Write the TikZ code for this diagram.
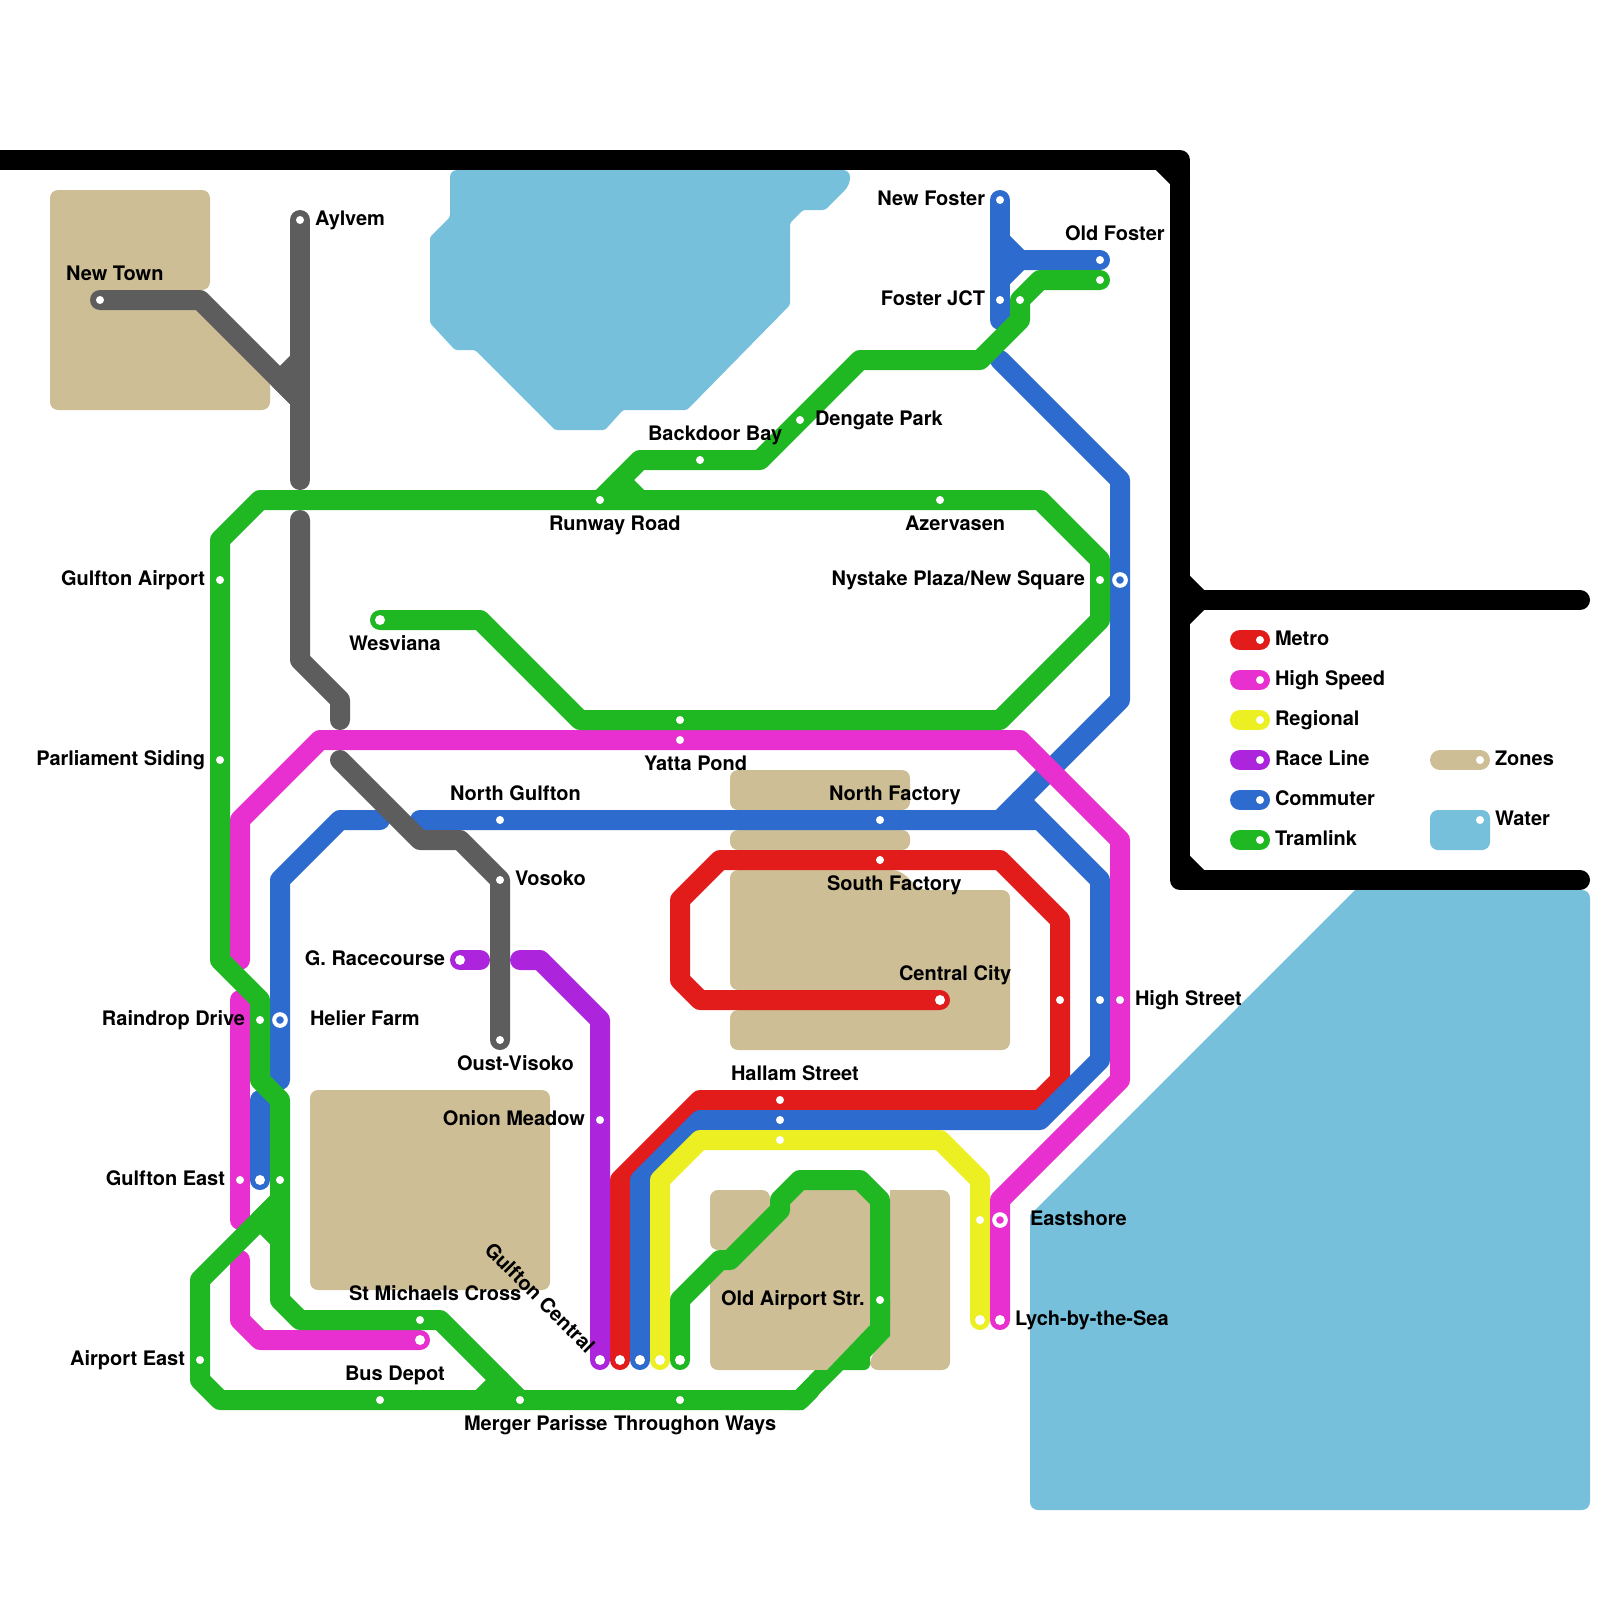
\documentclass[tikz,border=0pt]{standalone}
\usepackage{fontspec}
\setmainfont{TeX Gyre Heros}
\usetikzlibrary{backgrounds}
\definecolor{cRed}{HTML}{E21B1B}
\definecolor{cMag}{HTML}{E82FCF}
\definecolor{cYel}{HTML}{ECEF21}
\definecolor{cPur}{HTML}{AC25DC}
\definecolor{cBlu}{HTML}{2E6BCE}
\definecolor{cGrn}{HTML}{1FB823}
\definecolor{cGry}{HTML}{5D5D5D}
\definecolor{cTan}{HTML}{CDBE96}
\definecolor{cWat}{HTML}{76C0DC}
\tikzset{
  x=0.5pt,y=-0.5pt,
  route/.style={line width=10pt,line cap=round,line join=round,draw=#1},
  zone/.style={fill=cTan,rounded corners=4pt},
  water/.style={fill=cWat,rounded corners=4pt},
  sm/.style={circle,fill=white,inner sep=0pt,outer sep=0pt,minimum size=4pt},
  en/.style={circle,fill=white,inner sep=0pt,outer sep=0pt,minimum size=5pt},
  ring/.style={circle,fill=#1,draw=white,line width=2pt,inner sep=0pt,outer sep=0pt,minimum size=5.8pt},
  lab/.style={inner sep=0pt,outer sep=0pt,font=\fontsize{10}{12}\selectfont\bfseries,text=black,yshift=-0.7pt},
  labL/.style={lab,anchor=base west},
  labR/.style={lab,anchor=base east},
}
\begin{document}
\begin{tikzpicture}
\useasboundingbox (0,0) rectangle (1600,1600);

% stations
\node[sm] (NewTown) at (100,300) {};
\node[sm] (Aylvem) at (300,220) {};
\node[sm] (Vosoko) at (500,880) {};
\node[sm] (OustVisoko) at (500,1040) {};
\node[sm] (NewFoster) at (1000,200) {};
\node[sm] (FosterJCTb) at (1000,300) {};
\node[sm] (OldFosterb) at (1100,260) {};
\node[sm] (OldFosterg) at (1100,280) {};
\node[sm] (FosterJCTg) at (1020,300) {};
\node[sm] (Dengate) at (800,420) {};
\node[sm] (Backdoor) at (700,460) {};
\node[sm] (Runway) at (600,500) {};
\node[sm] (Azervasen) at (940,500) {};
\node[sm] (NystakeG) at (1100,580) {};
\node[ring=cBlu] (NystakeB) at (1120,580) {};
\node[en] (Wesviana) at (380,620) {};
\node[sm] (YattaG) at (680,720) {};
\node[sm] (YattaM) at (680,740) {};
\node[sm] (GulftonAirport) at (220,580) {};
\node[sm] (Parliament) at (220,760) {};
\node[sm] (NorthGulfton) at (500,820) {};
\node[sm] (NorthFactory) at (880,820) {};
\node[sm] (SouthFactory) at (880,860) {};
\node[en] (CentralCity) at (940,1000) {};
\node[en] (GRacecourse) at (460,960) {};
\node[sm] (RaindropDrive) at (260,1020) {};
\node[ring=cBlu] (HelierFarm) at (280,1020) {};
\node[sm] (HighStR) at (1060,1000) {};
\node[sm] (HighStB) at (1100,1000) {};
\node[sm] (HighStM) at (1120,1000) {};
\node[sm] (HallamR) at (780,1100) {};
\node[sm] (HallamB) at (780,1120) {};
\node[sm] (HallamY) at (780,1140) {};
\node[sm] (OnionMeadow) at (600,1120) {};
\node[sm] (GulftonEastM) at (240,1180) {};
\node[en] (GulftonEastB) at (260,1180) {};
\node[sm] (GulftonEastG) at (280,1180) {};
\node[sm] (StMichaelsG) at (420,1320) {};
\node[en] (StMichaelsM) at (420,1340) {};
\node[sm] (AirportEast) at (200,1360) {};
\node[sm] (BusDepot) at (380,1400) {};
\node[sm] (Merger) at (520,1400) {};
\node[sm] (Throughon) at (680,1400) {};
\node[en] (CentralP) at (600,1360) {};
\node[en] (CentralR) at (620,1360) {};
\node[en] (CentralB) at (640,1360) {};
\node[en] (CentralY) at (660,1360) {};
\node[en] (CentralG) at (680,1360) {};
\node[sm] (OldAirport) at (880,1300) {};
\node[sm] (EastshoreY) at (980,1220) {};
\node[ring=cMag] (EastshoreM) at (1000,1220) {};
\node[en] (LychY) at (980,1320) {};
\node[en] (LychM) at (1000,1320) {};
% legend dots
\node[sm] (kMetro) at (1260,640) {};
\node[sm] (kHigh) at (1260,680) {};
\node[sm] (kReg) at (1260,720) {};
\node[sm] (kRace) at (1260,760) {};
\node[sm] (kComm) at (1260,800) {};
\node[sm] (kTram) at (1260,840) {};
\node[sm] (kZone) at (1480,760) {};
\node[sm] (kWater) at (1480,820) {};

% labels
\node[labL] (tNewTown) at (66,279) {New Town};
\node[labL] (tAylvem) at (315,224) {Aylvem};
\node[labR] (tGA) at (205,584) {Gulfton Airport};
\node[labL] (tWes) at (349,649) {Wesviana};
\node[labR] (tPar) at (205,764) {Parliament Siding};
\node[labL] (tRun) at (549,529) {Runway Road};
\node[labL] (tAze) at (905,529) {Azervasen};
\node[labL] (tBac) at (648,439) {Backdoor Bay};
\node[labL] (tDen) at (815,424) {Dengate Park};
\node[labR] (tNF) at (985,204) {New Foster};
\node[labL] (tOF) at (1065,239) {Old Foster};
\node[labR] (tFJ) at (985,304) {Foster JCT};
\node[labR] (tNys) at (1085,584) {Nystake Plaza/New Square};
\node[labL] (tYat) at (644,769) {Yatta Pond};
\node[labL] (tNoF) at (829,799) {North Factory};
\node[labL] (tSoF) at (827,889) {South Factory};
\node[labL] (tNoG) at (450,799) {North Gulfton};
\node[labL] (tVos) at (515,884) {Vosoko};
\node[labR] (tGRa) at (445,964) {G. Racecourse};
\node[labR] (tRai) at (245,1024) {Raindrop Drive};
\node[labL] (tHel) at (310,1024) {Helier Farm};
\node[labL] (tOus) at (457,1069) {Oust-Visoko};
\node[labR] (tOni) at (585,1124) {Onion Meadow};
\node[labR] (tGuE) at (225,1184) {Gulfton East};
\node[lab,rotate=-45] (tGuC) at (540,1296) {Gulfton Central};
\node[labL] (tStM) at (349,1299) {St Michaels Cross};
\node[labL] (tBus) at (345,1379) {Bus Depot};
\node[labR] (tAiE) at (185,1364) {Airport East};
\node[labL] (tMer) at (464,1429) {Merger Parisse};
\node[labL] (tThr) at (614,1429) {Throughon Ways};
\node[labL] (tOld) at (721,1304) {Old Airport Str.};
\node[labL] (tHal) at (731,1079) {Hallam Street};
\node[labL] (tCen) at (899,979) {Central City};
\node[labL] (tHig) at (1135,1004) {High Street};
\node[labL] (tEas) at (1030,1224) {Eastshore};
\node[labL] (tLyc) at (1015,1324) {Lych-by-the-Sea};
\node[labL] (kt1) at (1275,644) {Metro};
\node[labL] (kt2) at (1275,684) {High Speed};
\node[labL] (kt3) at (1275,724) {Regional};
\node[labL] (kt4) at (1275,764) {Race Line};
\node[labL] (kt5) at (1275,804) {Commuter};
\node[labL] (kt6) at (1275,844) {Tramlink};
\node[labL] (kt7) at (1495,764) {Zones};
\node[labL] (kt8) at (1495,824) {Water};

\begin{scope}[on background layer]
% water
\fill[water,rounded corners=1.2pt] (600,170) [rounded corners=3.5pt] -- (850,170) -- (850,185) [rounded corners=1.2pt] -- (825,210) -- (803,210) -- (790,223) -- (790,305) -- (687,410) -- (623,410) -- (605,430) -- (555,430) -- (475,350) -- (455,350) -- (430,323) -- (430,237) -- (450,217) [rounded corners=3.5pt] -- (450,170) -- cycle;
\fill[water] (1355,890) [rounded corners=4pt] -- (1590,890) -- (1590,1510) -- (1030,1510) [sharp corners] -- (1030,1215) -- cycle;
\fill[water] (1430,810) rectangle (1490,850);
% zones
\fill[zone] (50,190) rectangle (210,290);
\fill[cTan] (50,260) -- (200,260) -- (200,310) -- (210,310) -- (270,370) -- (270,400) -- (50,400) -- cycle;
\fill[zone] (50,380) rectangle (270,410);
\fill[zone] (730,770) rectangle (910,810);
\fill[zone] (730,830) rectangle (910,850);
\fill[zone] (730,1010) -- (800,1010) -- (800,990) -- (730,990) -- (730,870) -- (900,870) -- (920,890) -- (1010,890) -- (1010,1050) -- (730,1050) -- cycle;
\fill[zone] (310,1090) rectangle (550,1290);
\fill[zone] (710,1190) -- (770,1190) -- (770,1205) [sharp corners] -- (775,1205) -- (730,1250) [rounded corners=4pt] -- (710,1250) -- cycle;
\fill[zone] (800,1190) -- (790,1190) -- (790,1205) [sharp corners] -- (730,1265) -- (730,1270) [rounded corners=4pt] -- (710,1270) -- (710,1370) [sharp corners] -- (827,1370) -- (870,1325) [rounded corners=4pt] -- (870,1190) -- cycle;
\fill[zone] (890,1190) -- (950,1190) -- (950,1370) -- (870,1370) -- (870,1357) [sharp corners] -- (890,1336) -- cycle;
% black frame
\draw[route=black] (-20,160) -- (1180,160) -- (1180,880) -- (1580,880);
\draw[route=black] (1180,600) -- (1580,600);
\draw[route=black] (1160,160) -- (1180,180);
\draw[route=black] (1180,580) -- (1200,600) -- (1180,620);
\draw[route=black] (1180,860) -- (1200,880);
% metro
\draw[route=cRed] (CentralCity.center) -- (700,1000) -- (680,980) -- (680,900) -- (720,860) -- (SouthFactory.center) -- (1000,860) -- (1060,920) -- (HighStR.center) -- (1060,1080) -- (1040,1100) -- (HallamR.center) -- (700,1100) -- (620,1180) -- (CentralR.center);
% commuter
\draw[route=cBlu] (CentralB.center) -- (640,1180) -- (700,1120) -- (HallamB.center) -- (1040,1120) -- (1100,1060) -- (HighStB.center) -- (1100,880) -- (1020,800) -- (1040,820) -- (NorthFactory.center) -- (NorthGulfton.center) -- (420,820);
\draw[route=cBlu] (380,820) -- (340,820) -- (280,880) -- (HelierFarm.center) -- (280,1080);
\draw[route=cBlu] (260,1100) -- (GulftonEastB.center);
\draw[route=cBlu] (1000,820) -- (1120,700) -- (NystakeB.center) -- (1120,480) -- (1000,360);
\draw[route=cBlu] (NewFoster.center) -- (FosterJCTb.center) -- (1000,320);
\draw[route=cBlu] (OldFosterb.center) -- (1020,260) -- (1000,240);
\draw[route=cBlu] (1020,260) -- (1000,280);
% regional
\draw[route=cYel] (CentralY.center) -- (660,1180) -- (700,1140) -- (HallamY.center) -- (940,1140) -- (980,1180) -- (EastshoreY.center) -- (LychY.center);
% high speed
\draw[route=cMag] (240,960) -- (240,820) -- (320,740) -- (YattaM.center) -- (1020,740) -- (1120,840) -- (HighStM.center) -- (1120,1080) -- (1000,1200) -- (EastshoreM.center) -- (LychM.center);
\draw[route=cMag] (240,1000) -- (GulftonEastM.center) -- (240,1220);
\draw[route=cMag] (240,1260) -- (240,1320) -- (260,1340) -- (StMichaelsM.center);
% race line
\draw[route=cPur] (GRacecourse.center) -- (480,960);
\draw[route=cPur] (520,960) -- (540,960) -- (600,1020) -- (OnionMeadow.center) -- (CentralP.center);
% grey line
\draw[route=cGry] (NewTown.center) -- (200,300) -- (300,400);
\draw[route=cGry] (Aylvem.center) -- (300,480);
\draw[route=cGry] (300,360) -- (280,380) -- (300,400);
\draw[route=cGry] (300,520) -- (300,660) -- (340,700) -- (340,720);
\draw[route=cGry] (340,760) -- (420,840) -- (460,840) -- (Vosoko.center) -- (OustVisoko.center);
% tramlink
\draw[route=cGrn] (Wesviana.center) -- (480,620) -- (580,720) -- (YattaG.center) -- (1000,720) -- (1100,620) -- (NystakeG.center) -- (1100,560) -- (1040,500) -- (Azervasen.center) -- (Runway.center) -- (260,500) -- (220,540) -- (GulftonAirport.center) -- (Parliament.center) -- (220,960) -- (260,1000) -- (RaindropDrive.center) -- (260,1080) -- (280,1100) -- (GulftonEastG.center) -- (280,1300) -- (300,1320) -- (StMichaelsG.center) -- (440,1320) -- (Merger.center);
\draw[route=cGrn] (280,1200) -- (260,1220) -- (280,1240);
\draw[route=cGrn] (280,1200) -- (200,1280) -- (AirportEast.center) -- (200,1380) -- (220,1400) -- (BusDepot.center) -- (Merger.center) -- (Throughon.center) -- (800,1400) -- (810,1390);
\draw[route=cGrn] (480,1400) -- (500,1380);
\draw[route=cGrn] (OldFosterg.center) -- (1040,280) -- (FosterJCTg.center) -- (1020,320) -- (980,360) -- (860,360) -- (Dengate.center) -- (760,460) -- (Backdoor.center) -- (640,460) -- (Runway.center);
\draw[route=cGrn] (620,480) -- (640,500);
\draw[route=cGrn] (CentralG.center) -- (680,1300) -- (720,1260) -- (730,1260) -- (780,1210) -- (780,1200) -- (800,1180) -- (860,1180) -- (880,1200) -- (OldAirport.center) -- (880,1320);
\fill[cGrn] (870,1300) -- (890,1300) -- (890,1336) -- (870,1357) [rounded corners=3pt] -- (870,1370) [sharp corners] -- (843,1370) -- (803,1410) -- (790,1410) -- (790,1396) -- (815,1370) -- (827,1370) -- (870,1325) -- cycle;
% legend keys
\coordinate (kMetroA) at (1240,640);
\coordinate (kHighA) at (1240,680);
\coordinate (kRegA) at (1240,720);
\coordinate (kRaceA) at (1240,760);
\coordinate (kCommA) at (1240,800);
\coordinate (kTramA) at (1240,840);
\coordinate (kZoneA) at (1440,760);
\draw[route=cRed] (kMetroA) -- (kMetro.center);
\draw[route=cMag] (kHighA) -- (kHigh.center);
\draw[route=cYel] (kRegA) -- (kReg.center);
\draw[route=cPur] (kRaceA) -- (kRace.center);
\draw[route=cBlu] (kCommA) -- (kComm.center);
\draw[route=cGrn] (kTramA) -- (kTram.center);
\draw[route=cTan] (kZoneA) -- (kZone.center);
\end{scope}
\end{tikzpicture}
\end{document}
